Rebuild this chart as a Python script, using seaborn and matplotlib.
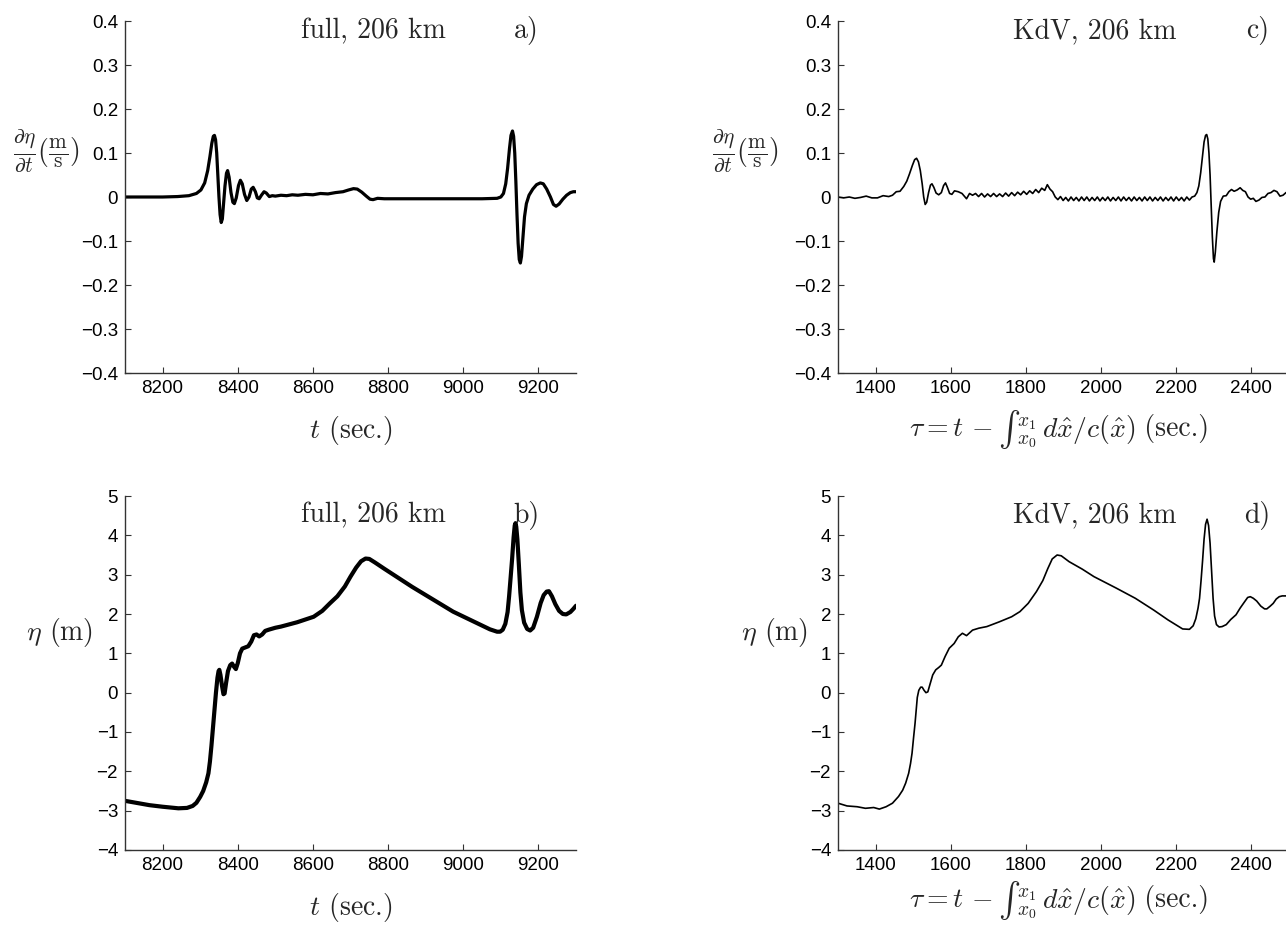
import numpy as np
import pandas as pd
import seaborn as sns
import matplotlib
matplotlib.use("Agg")
import matplotlib.pyplot as plt

# ---- data -------------------------------------------------------------
# full model, surface slope d(eta)/dt (m/s) at 206 km, versus t (sec.)
full_deta = [
    (8100, 0.000), (8150, 0.000), (8200, 0.000), (8240, 0.001), (8270, 0.003),
    (8290, 0.008), (8302, 0.016), (8312, 0.032), (8320, 0.060), (8326, 0.092),
    (8331, 0.122), (8335, 0.138), (8338, 0.140), (8341, 0.130), (8344, 0.100),
    (8347, 0.050), (8350, 0.000), (8353, -0.040), (8356, -0.058), (8359, -0.050),
    (8362, -0.018), (8366, 0.025), (8370, 0.054), (8373, 0.060), (8377, 0.045),
    (8382, 0.010), (8387, -0.012), (8391, -0.015), (8396, -0.002), (8402, 0.026),
    (8407, 0.038), (8412, 0.030), (8418, 0.006), (8424, -0.008), (8430, 0.000),
    (8436, 0.018), (8441, 0.022), (8447, 0.012), (8452, -0.002), (8457, -0.004),
    (8463, 0.004), (8470, 0.012), (8476, 0.009), (8484, 0.001), (8492, 0.003),
    (8500, 0.002), (8515, 0.004), (8530, 0.003), (8545, 0.005), (8560, 0.004),
    (8580, 0.006), (8600, 0.005), (8620, 0.008), (8640, 0.007), (8660, 0.010),
    (8680, 0.012), (8695, 0.016), (8708, 0.019), (8718, 0.018), (8730, 0.011),
    (8742, 0.002), (8752, -0.005), (8760, -0.006), (8772, -0.003), (8790, -0.004),
    (8850, -0.004), (8950, -0.004), (9050, -0.004), (9090, -0.003), (9100, 0.000),
    (9107, 0.008), (9113, 0.030), (9118, 0.065), (9123, 0.110), (9127, 0.140),
    (9131, 0.150), (9134, 0.138), (9137, 0.100), (9140, 0.035), (9143, -0.040),
    (9146, -0.105), (9149, -0.142), (9152, -0.150), (9155, -0.135), (9159, -0.090),
    (9163, -0.045), (9168, -0.015), (9175, 0.004), (9185, 0.018), (9195, 0.028),
    (9205, 0.032), (9213, 0.030), (9222, 0.018), (9232, 0.000), (9240, -0.017),
    (9247, -0.021), (9255, -0.016), (9265, -0.005), (9275, 0.004), (9285, 0.010),
    (9293, 0.012), (9300, 0.012),
]

# full model, surface elevation eta (m) at 206 km, versus t (sec.)
full_eta = [
    (8100, -2.75), (8165, -2.86), (8200, -2.90), (8242, -2.94), (8265, -2.93),
    (8280, -2.88), (8290, -2.80), (8300, -2.65), (8308, -2.50), (8316, -2.28),
    (8322, -2.05), (8326, -1.75), (8330, -1.35), (8334, -0.90), (8338, -0.45),
    (8342, 0.00), (8346, 0.38), (8349, 0.55), (8351, 0.58), (8354, 0.45),
    (8358, 0.18), (8362, -0.04), (8365, -0.02), (8369, 0.25), (8374, 0.55),
    (8380, 0.70), (8385, 0.74), (8390, 0.66), (8395, 0.60), (8400, 0.75),
    (8406, 1.00), (8412, 1.12), (8420, 1.15), (8428, 1.18), (8436, 1.30),
    (8443, 1.46), (8450, 1.48), (8457, 1.43), (8465, 1.48), (8473, 1.57),
    (8482, 1.60), (8500, 1.65), (8515, 1.68), (8558, 1.79), (8602, 1.93),
    (8625, 2.08), (8645, 2.27), (8665, 2.45), (8685, 2.70), (8700, 2.95),
    (8715, 3.18), (8728, 3.34), (8740, 3.41), (8750, 3.40), (8765, 3.31),
    (8790, 3.15), (8864, 2.69), (8973, 2.06), (9071, 1.61), (9090, 1.55),
    (9098, 1.55), (9105, 1.60), (9112, 1.75), (9118, 2.05), (9122, 2.45),
    (9126, 2.92), (9130, 3.40), (9134, 3.95), (9137, 4.25), (9139, 4.31),
    (9141, 4.22), (9144, 3.90), (9148, 3.25), (9152, 2.55), (9156, 2.10),
    (9162, 1.78), (9170, 1.62), (9178, 1.58), (9186, 1.65), (9196, 1.93),
    (9206, 2.28), (9214, 2.48), (9222, 2.57), (9228, 2.58), (9236, 2.45),
    (9245, 2.25), (9255, 2.08), (9265, 2.00), (9274, 1.99), (9285, 2.05),
    (9293, 2.13), (9300, 2.21),
]

# KdV model, surface slope d(eta)/dt (m/s) at 206 km, versus travel-time shifted tau
kdv_deta = [
    (1300, 0.000), (1315, -0.002), (1330, 0.000), (1345, -0.003), (1360, -0.001),
    (1375, 0.002), (1390, -0.002), (1405, -0.002), (1420, 0.003), (1435, 0.001),
    (1445, 0.004), (1455, 0.012), (1465, 0.013), (1475, 0.024), (1483, 0.036),
    (1490, 0.052), (1498, 0.072), (1504, 0.085), (1509, 0.088), (1514, 0.080),
    (1519, 0.060), (1524, 0.030), (1528, 0.000), (1532, -0.017), (1536, -0.012),
    (1541, 0.010), (1546, 0.027), (1550, 0.030), (1555, 0.022), (1561, 0.009),
    (1568, 0.005), (1575, 0.010), (1581, 0.026), (1586, 0.032), (1591, 0.022),
    (1597, 0.008), (1603, 0.006), (1610, 0.014), (1620, 0.012), (1630, 0.008),
    (1642, -0.004), (1650, 0.008), (1658, 0.004), (1666, 0.008),
    (1674, 0.001), (1682, 0.008), (1690, 0.000), (1698, 0.007), (1706, 0.001),
    (1714, 0.008), (1722, 0.001), (1730, 0.007), (1738, 0.001), (1746, 0.009),
    (1754, 0.002), (1762, 0.010), (1770, 0.003), (1778, 0.011), (1786, 0.005),
    (1794, 0.013), (1802, 0.006), (1810, 0.014), (1818, 0.008), (1826, 0.017),
    (1834, 0.010), (1842, 0.020), (1850, 0.015), (1857, 0.028), (1864, 0.018),
    (1871, 0.012), (1878, 0.000), (1885, -0.006), (1892, 0.001), (1899, -0.008),
    (1906, -0.001), (1913, -0.009), (1920, 0.000), (1927, -0.008), (1934, -0.001),
    (1941, -0.009), (1948, 0.000), (1955, -0.008), (1962, 0.000), (1969, -0.009),
    (1976, -0.001), (1983, -0.008), (1990, 0.000), (1997, -0.009), (2004, -0.001),
    (2011, -0.008), (2018, 0.000), (2025, -0.009), (2032, -0.001), (2039, -0.008),
    (2046, 0.000), (2053, -0.009), (2060, 0.000), (2067, -0.008), (2074, -0.001),
    (2081, -0.009), (2088, 0.000), (2095, -0.008), (2102, -0.001), (2109, -0.009),
    (2116, 0.000), (2123, -0.008), (2130, 0.000), (2137, -0.009), (2144, -0.001),
    (2151, -0.008), (2158, 0.000), (2165, -0.009), (2172, -0.001), (2179, -0.008),
    (2186, 0.000), (2193, -0.009), (2200, 0.000), (2207, -0.008), (2214, -0.001),
    (2221, -0.009), (2228, 0.000), (2235, -0.007), (2242, 0.000), (2249, 0.002),
    (2255, 0.010), (2260, 0.025), (2265, 0.055), (2270, 0.095), (2274, 0.125),
    (2278, 0.140), (2281, 0.142), (2284, 0.132), (2287, 0.100), (2290, 0.050),
    (2293, -0.020), (2296, -0.090), (2299, -0.140), (2301, -0.148), (2304, -0.125),
    (2308, -0.080), (2313, -0.035), (2318, -0.010), (2325, 0.002), (2333, 0.003),
    (2340, 0.012), (2347, 0.017), (2354, 0.013), (2362, 0.016), (2370, 0.021),
    (2377, 0.015), (2384, 0.012), (2391, 0.000), (2398, -0.005), (2405, -0.003),
    (2412, -0.010), (2420, -0.007), (2428, -0.001), (2436, 0.000), (2444, 0.008),
    (2452, 0.010), (2460, 0.015), (2468, 0.012), (2476, 0.002), (2484, 0.004),
    (2492, 0.010), (2500, 0.012),
]

# KdV model, surface elevation eta (m) at 206 km, versus tau
kdv_eta = [
    (1300, -2.81), (1324, -2.88), (1351, -2.90), (1373, -2.94), (1395, -2.92),
    (1410, -2.96), (1428, -2.90), (1445, -2.81), (1461, -2.64), (1472, -2.48),
    (1480, -2.30), (1488, -2.05), (1493, -1.80), (1497, -1.54), (1501, -1.15),
    (1505, -0.78), (1508, -0.45), (1511, -0.12), (1515, 0.06), (1520, 0.14),
    (1524, 0.14), (1529, 0.06), (1534, 0.00), (1539, 0.02), (1545, 0.22),
    (1552, 0.45), (1560, 0.58), (1568, 0.64), (1575, 0.70), (1585, 0.92),
    (1596, 1.13), (1609, 1.25), (1620, 1.42), (1631, 1.51), (1642, 1.45),
    (1658, 1.59), (1675, 1.64), (1696, 1.68), (1729, 1.80), (1762, 1.93),
    (1784, 2.06), (1806, 2.27), (1828, 2.57), (1845, 2.85), (1858, 3.15),
    (1870, 3.40), (1883, 3.50), (1894, 3.48), (1915, 3.33), (1950, 3.14),
    (1981, 2.95), (2040, 2.66), (2091, 2.40), (2140, 2.10), (2178, 1.85),
    (2217, 1.62), (2235, 1.61), (2245, 1.70), (2252, 1.88), (2258, 2.15),
    (2262, 2.40), (2266, 2.85), (2270, 3.35), (2274, 3.90), (2278, 4.28),
    (2282, 4.41), (2286, 4.25), (2290, 3.80), (2294, 3.10), (2298, 2.40),
    (2302, 1.95), (2307, 1.73), (2314, 1.67), (2322, 1.68), (2333, 1.73),
    (2345, 1.86), (2359, 1.98), (2370, 2.15), (2381, 2.30), (2390, 2.42),
    (2397, 2.44), (2405, 2.40), (2414, 2.33), (2425, 2.20), (2435, 2.13),
    (2441, 2.13), (2450, 2.20), (2458, 2.27), (2466, 2.38), (2474, 2.44),
    (2482, 2.46), (2490, 2.46), (2501, 2.46),
]

t_ticks = [8200, 8400, 8600, 8800, 9000, 9200]
tau_ticks = [1400, 1600, 1800, 2000, 2200, 2400]
slope_ticks = [-0.4, -0.3, -0.2, -0.1, 0, 0.1, 0.2, 0.3, 0.4]
slope_labels = ["\u22120.4", "\u22120.3", "\u22120.2", "\u22120.1", "0", "0.1", "0.2", "0.3", "0.4"]
eta_ticks = [-4, -3, -2, -1, 0, 1, 2, 3, 4, 5]
eta_labels = ["\u22124", "\u22123", "\u22122", "\u22121", "0", "1", "2", "3", "4", "5"]

# ---- style ------------------------------------------------------------
sns.set_theme(style="ticks")
plt.rcParams["font.family"] = ["Liberation Sans", "DejaVu Sans"]
plt.rcParams["mathtext.fontset"] = "cm"
plt.rcParams["axes.linewidth"] = 1.0
plt.rcParams["axes.edgecolor"] = "#333333"

TICK_FS = 13.5
LAB_FS = 20
SERIF = "cmr10"

fig = plt.figure(figsize=(12.86, 9.25), dpi=100)
W, H = 1286.0, 925.0


def make_axes(x0, y_top, x1, y_bot):
    return fig.add_axes([x0 / W, 1 - y_bot / H, (x1 - x0) / W, (y_bot - y_top) / H])


ax_a = make_axes(125, 21, 576, 373)
ax_c = make_axes(838, 21, 1289, 373)
ax_b = make_axes(125, 496, 576, 850)
ax_d = make_axes(838, 496, 1289, 850)

panels = [
    (ax_a, full_deta, 2.3, (8100, 9300), (-0.4, 0.4), t_ticks, slope_ticks, slope_labels,
     "full, 206 km", "a)", 0.55, 0.89, 0.972),
    (ax_b, full_eta, 3.0, (8100, 9300), (-4, 5), t_ticks, eta_ticks, eta_labels,
     "full, 206 km", "b)", 0.55, 0.89, 0.945),
    (ax_c, kdv_deta, 1.2, (1300, 2500), (-0.4, 0.4), tau_ticks, slope_ticks, slope_labels,
     "KdV, 206 km", "c)", 0.57, 0.93, 0.972),
    (ax_d, kdv_eta, 1.2, (1300, 2500), (-4, 5), tau_ticks, eta_ticks, eta_labels,
     "KdV, 206 km", "d)", 0.57, 0.93, 0.945),
]

for ax, series, lw, xlim, ylim, xt, yt, ylab, title, tag, tx, tagx, ty in panels:
    df = pd.DataFrame(series, columns=["x", "y"])
    sns.lineplot(data=df, x="x", y="y", ax=ax, color="black", linewidth=lw,
                 sort=False, estimator=None)
    ax.set_xlim(*xlim)
    ax.set_ylim(*ylim)
    ax.set_xticks(xt)
    ax.set_xticklabels([str(v) for v in xt])
    ax.set_yticks(yt)
    ax.set_yticklabels(ylab)
    ax.tick_params(direction="in", length=4, width=0.8, labelsize=TICK_FS,
                   colors="#333333", labelcolor="black", pad=5)
    sns.despine(ax=ax)
    ax.set_xlabel("")
    ax.set_ylabel("")
    ax.text(tx, ty, title, transform=ax.transAxes, ha="center", va="center",
            fontsize=LAB_FS, family=SERIF)
    ax.text(tagx, ty, tag, transform=ax.transAxes, ha="center", va="center",
            fontsize=LAB_FS, family=SERIF)

slope_label = r"$\frac{\partial\eta}{\partial t}\left(\frac{\mathrm{m}}{\mathrm{s}}\right)$"
eta_label = r"$\eta$ (m)"
t_label = r"$t$ (sec.)"

for ax in (ax_a, ax_b):
    ax.set_xlabel(t_label, fontsize=LAB_FS, labelpad=12, family=SERIF)

ax_a.set_ylabel(slope_label, fontsize=22, rotation=0, ha="center", va="center")
ax_a.yaxis.set_label_coords(-0.175, 0.63)
ax_c.set_ylabel(slope_label, fontsize=22, rotation=0, ha="center", va="center")
ax_c.yaxis.set_label_coords(-0.205, 0.63)
ax_b.set_ylabel(eta_label, fontsize=LAB_FS, rotation=0, ha="center", va="center",
                family=SERIF)
ax_b.yaxis.set_label_coords(-0.145, 0.613)
ax_d.set_ylabel(eta_label, fontsize=LAB_FS, rotation=0, ha="center", va="center",
                family=SERIF)
ax_d.yaxis.set_label_coords(-0.14, 0.613)


def tau_xlabel(ax, y_base):
    """tau = t - int_{x0}^{x1} dx/c(x) (sec.), with a text-size integral sign."""
    p1 = ax.text(0.0, y_base, r"$\tau = t\,-\,$", transform=ax.transAxes,
                 ha="left", va="baseline", fontsize=LAB_FS)
    # text-style integral glyph from the Computer Modern extension font
    p2 = ax.annotate("R", xy=(1, y_base), xycoords=(p1, ax.transAxes),
                     xytext=(4, 19), textcoords="offset points",
                     ha="left", va="baseline", fontsize=24, family="cmex10")
    p3 = ax.annotate(r"${}_{x_0}^{x_1}\,d\hat{x}/c(\hat{x})$", xy=(1, y_base),
                     xycoords=(p2, ax.transAxes), xytext=(1, 0),
                     textcoords="offset points", ha="left", va="baseline",
                     fontsize=LAB_FS)
    p4 = ax.annotate(" (sec.)", xy=(1, y_base), xycoords=(p3, ax.transAxes),
                     xytext=(0, 0), textcoords="offset points",
                     ha="left", va="baseline", fontsize=LAB_FS, family=SERIF)
    return [p1, p2, p3, p4]


label_c = tau_xlabel(ax_c, -0.18)
label_d = tau_xlabel(ax_d, -0.162)

# centre each composite label under its axes
fig.canvas.draw()
renderer = fig.canvas.get_renderer()
for ax, parts in ((ax_c, label_c), (ax_d, label_d)):
    x_left = parts[0].get_window_extent(renderer).x0
    x_right = parts[-1].get_window_extent(renderer).x1
    ax_box = ax.get_window_extent(renderer)
    width_ax = (x_right - x_left) / ax_box.width
    parts[0].set_x(0.49 - width_ax / 2)

fig.savefig("out.png", dpi=100)
